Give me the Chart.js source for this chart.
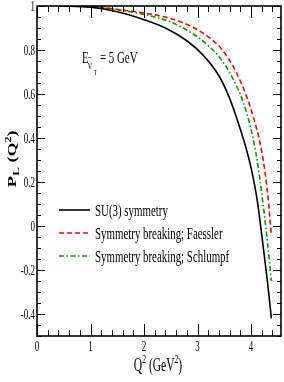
<!DOCTYPE html>
<html><head><meta charset="utf-8">
<script src="https://cdn.jsdelivr.net/npm/chart.js@4"></script>
<style>html,body{margin:0;background:#fff}canvas{display:block}</style>
</head><body>
<canvas id="pl" width="284" height="382"></canvas>
<script>
// longitudinal polarisation P_L(Q^2), anti-nu_tau at E = 5 GeV
const SU3_Q2=[0.42,1.0,1.5,2.0,2.4,2.8,3.1,3.4,3.6,3.8,3.9,4.0,4.12,4.23,4.31,4.38];
const SU3_PL=[1.0,0.994,0.974,0.938,0.9,0.842,0.778,0.683,0.58,0.44,0.36,0.265,0.11,-0.1,-0.26,-0.42];
const FAE_Q2=[0.42,1.0,1.5,2.0,2.5,2.9,3.2,3.45,3.7,3.9,4.05,4.17,4.27,4.33,4.38];
const FAE_PL=[1.0,0.998,0.985,0.968,0.943,0.905,0.86,0.805,0.71,0.6,0.49,0.375,0.23,0.1,-0.045];
const SCH_Q2=[0.42,1.0,1.5,2.0,2.5,2.9,3.2,3.45,3.65,3.85,4.0,4.12,4.22,4.31,4.38];
const SCH_PL=[1.0,0.997,0.983,0.962,0.927,0.876,0.82,0.755,0.675,0.565,0.44,0.29,0.11,-0.08,-0.25];
const SERIES=['SU(3) symmetry','Symmetry breaking; Faessler','Symmetry breaking; Schlumpf'];
const X_TICKS=[0,1,2,3,4];
const Y_TICKS=[-0.4,-0.2,0,0.2,0.4,0.6,0.8,1];

const XS=0.64; // lettering in the original is squeezed sideways
const SERIF='"Liberation Serif","Times New Roman",serif';
const pts=(xs,ys)=>xs.map((x,i)=>({x,y:ys[i]}));

// draw a run of text pieces [text,size,dy,weight]
function txt(ctx,parts,x,y,align,rot){
  let w=0;
  parts.forEach(p=>{ctx.font=`${p[3]||'normal'} ${p[1]}px ${SERIF}`;w+=ctx.measureText(p[0]).width;});
  let cx=align==='center'?-w/2:align==='right'?-w:0;
  ctx.save();ctx.translate(x,y);ctx.scale(XS,1);if(rot)ctx.rotate(rot);
  ctx.fillStyle='#000';ctx.textAlign='left';ctx.textBaseline='alphabetic';
  parts.forEach(p=>{ctx.font=`${p[3]||'normal'} ${p[1]}px ${SERIF}`;ctx.fillText(p[0],cx,p[2]||0);cx+=ctx.measureText(p[0]).width;});
  ctx.restore();
}

const frame={id:'frame',afterDraw(c){
  const ctx=c.ctx,a=c.chartArea,sx=c.scales.x,sy=c.scales.y;
  ctx.save();
  ctx.strokeStyle='#000';ctx.lineWidth=1;
  ctx.beginPath();
  for(let i=Math.ceil(sx.min/0.2);i*0.2<=sx.max+1e-9;i++){
    const v=i*0.2,px=Math.round(sx.getPixelForValue(v))+0.5,big=Math.abs(v-Math.round(v))<1e-6,l=big?12:6;
    ctx.moveTo(px,a.bottom);ctx.lineTo(px,a.bottom-l);ctx.moveTo(px,a.top);ctx.lineTo(px,a.top+l);
  }
  for(let i=Math.ceil(sy.min/0.05);i*0.05<=sy.max+1e-9;i++){
    const v=i*0.05,py=Math.round(sy.getPixelForValue(v))+0.5,big=Math.abs(v/0.2-Math.round(v/0.2))<1e-6,l=big?8:4;
    ctx.moveTo(a.left,py);ctx.lineTo(a.left+l,py);ctx.moveTo(a.right,py);ctx.lineTo(a.right-l,py);
  }
  ctx.stroke();
  ctx.lineWidth=1.6;ctx.strokeRect(a.left,a.top,a.right-a.left,a.bottom-a.top);
  ctx.restore();
  X_TICKS.forEach(v=>txt(ctx,[[String(v),14]],sx.getPixelForValue(v),351,'center'));
  Y_TICKS.forEach(v=>txt(ctx,[[String(v),14]],35,sy.getPixelForValue(v)+5,'right'));
  txt(ctx,[['Q',18],['2',12,-8],[' (GeV',18],['2',12,-8],[')',18]],158,371,'center');
  txt(ctx,[['P',19,0,'bold'],['L',13,5,'bold'],[' (Q',18,0,'bold'],['2',12,-8,'bold'],[')',18,0,'bold']],16,159,'center',-Math.PI/2);
  // E_(anti nu_tau) = 5 GeV
  txt(ctx,[['E',17]],82,63);
  txt(ctx,[['\u03bd',13]],88,69);
  txt(ctx,[['\u2013',11]],88,60);
  txt(ctx,[['\u03c4',10]],94,75);
  txt(ctx,[['= 5 GeV',17]],100,63);
  // legend
  const ly=[210,233,256];
  c.data.datasets.forEach((d,i)=>{
    ctx.save();ctx.strokeStyle=d.borderColor;ctx.lineWidth=d.borderWidth;ctx.setLineDash(d.borderDash||[]);
    ctx.beginPath();ctx.moveTo(59,ly[i]);ctx.lineTo(90,ly[i]);ctx.stroke();ctx.restore();
    txt(ctx,[[d.label,17]],95,ly[i]+5.5);
  });
}};

new Chart(document.getElementById('pl'),{
  type:'line',
  data:{datasets:[
    {label:SERIES[0],data:pts(SU3_Q2,SU3_PL),borderColor:'#000000',borderWidth:1.6},
    {label:SERIES[1],data:pts(FAE_Q2,FAE_PL),borderColor:'#ff0000',borderWidth:1.6,borderDash:[5,3]},
    {label:SERIES[2],data:pts(SCH_Q2,SCH_PL),borderColor:'#009a00',borderWidth:1.6,borderDash:[5,2.5,1.5,2.5]},
  ]},
  options:{responsive:false,animation:false,devicePixelRatio:1,
    layout:{padding:{left:37,right:3,top:6,bottom:46}},
    elements:{point:{radius:0},line:{cubicInterpolationMode:'monotone',fill:false}},
    plugins:{legend:{display:false},tooltip:{enabled:false}},
    scales:{
      x:{type:'linear',min:0,max:4.56,display:false},
      y:{min:-0.5,max:1,display:false}
    }
  },
  plugins:[frame]
});
</script>
</body></html>
